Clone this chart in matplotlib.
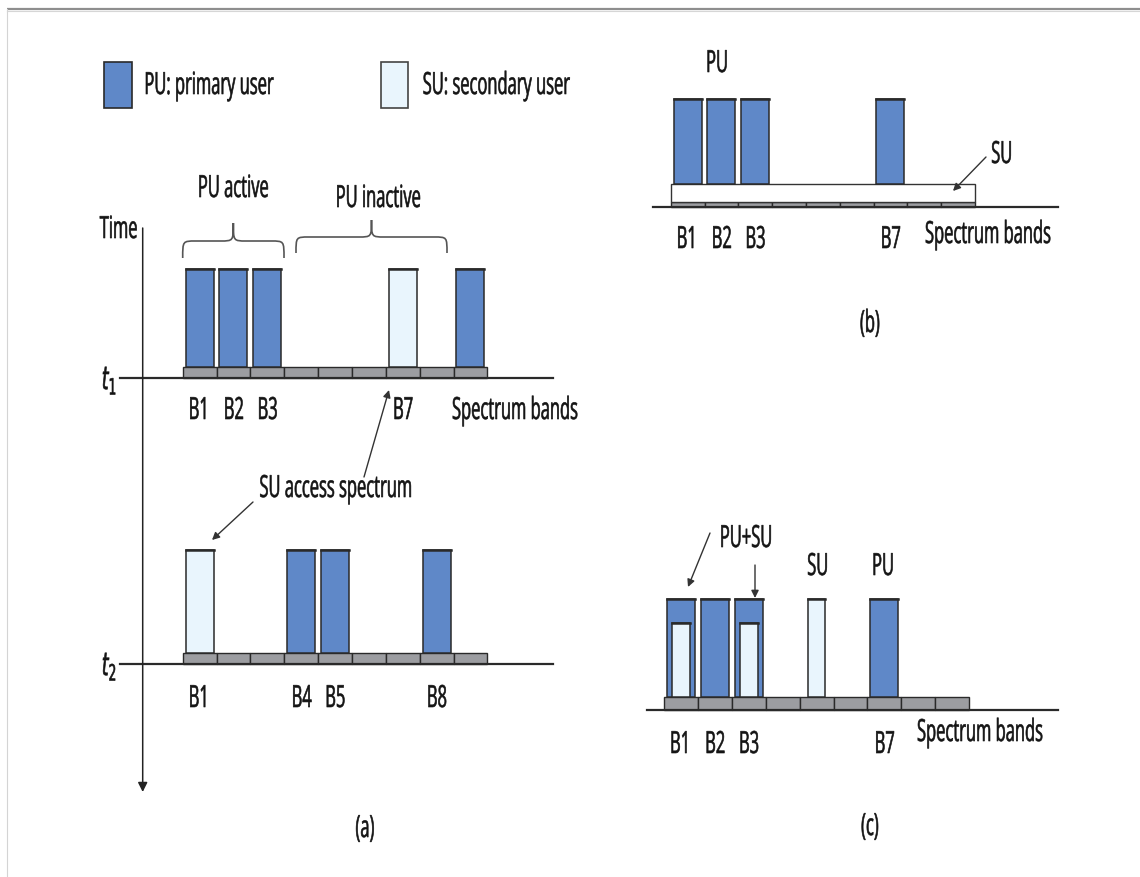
import matplotlib
matplotlib.use("Agg")
import matplotlib.pyplot as plt
from matplotlib.patches import Rectangle, PathPatch
from matplotlib.path import Path
from matplotlib.patheffects import AbstractPathEffect
from matplotlib.transforms import Affine2D, Bbox
from matplotlib.text import Text

# ---------------- data ----------------
n_bands = 9
legend_labels = ["PU: primary user", "SU: secondary user"]

# panel (a), time t1
a_t1_pu = [1, 2, 3, 9]
a_t1_su = [7]
a_t1_labels = {1: "B1", 2: "B2", 3: "B3", 7: "B7"}
# panel (a), time t2
a_t2_pu = [4, 5, 8]
a_t2_su = [1]
a_t2_labels = {1: "B1", 4: "B4", 5: "B5", 8: "B8"}
# panel (b): PU bands, SU spread over all bands
b_pu = [1, 2, 3, 7]
b_su_span = (1, 9)
b_labels = {1: "B1", 2: "B2", 3: "B3", 7: "B7"}
# panel (c): PU bands, SU bands (underlay where shared)
c_pu = [1, 2, 3, 7]
c_su = [1, 3, 5]
c_labels = {1: "B1", 2: "B2", 3: "B3", 7: "B7"}

# ---------------- style ----------------
PU_FILL = "#5f88c8"
SU_FILL = "#e9f5fd"
STRIP_FILL = "#9c9da1"
EDGE = "#2a2a2a"
FONT = ["Open Sans", "DejaVu Sans"]
FS = 22
SQUEEZE = 0.54

plt.rcParams["font.family"] = FONT


class Squeeze(AbstractPathEffect):
    """Draw text horizontally condensed (narrow type face look)."""

    def __init__(self, sx, anchor="center", stroke=0.45):
        super().__init__()
        self.sx = sx
        self.anchor = anchor
        self.stroke = stroke

    def draw_path(self, renderer, gc, tpath, affine, rgbFace=None):
        ext = tpath.get_extents()
        if self.anchor == "left":
            cx = ext.x0
        elif self.anchor == "right":
            cx = ext.x1
        else:
            cx = (ext.x0 + ext.x1) / 2
        t = Affine2D().translate(-cx, 0).scale(self.sx, 1).translate(cx, 0)
        gc0 = renderer.new_gc()
        gc0.copy_properties(gc)
        gc0.set_linewidth(self.stroke)
        if rgbFace is not None:
            gc0.set_foreground(rgbFace)
        renderer.draw_path(gc0, tpath, t + affine, rgbFace)
        gc0.restore()


class NarrowText(Text):
    """Text whose reported extent matches its condensed drawing."""

    def __init__(self, *args, sx=1.0, **kwargs):
        super().__init__(*args, **kwargs)
        self._sx = sx

    def get_window_extent(self, renderer=None, dpi=None):
        bb = super().get_window_extent(renderer, dpi)
        w = bb.width * self._sx
        ha = self.get_horizontalalignment()
        if ha == "left":
            x0 = bb.x0
        elif ha == "right":
            x0 = bb.x1 - w
        else:
            x0 = bb.x0 + (bb.width - w) / 2
        return Bbox.from_bounds(x0, bb.y0, w, bb.height)


fig = plt.figure(figsize=(11.4, 8.77), dpi=100)
ax = fig.add_axes([0, 0, 1, 1])
ax.set_xlim(0, 1140)
ax.set_ylim(877, 0)
ax.axis("off")

# frame lines
ax.plot([7, 1140], [9, 9], color="#8e8e8e", lw=1.6, solid_capstyle="butt")
ax.plot([7, 1140], [10.8, 10.8], color="#d6d6d6", lw=0.8)
ax.plot([7.3, 7.3], [9, 877], color="#d4d4d4", lw=0.8)


def txt(x, y, s, size=FS, ha="center", **kw):
    t = NarrowText(x, y, s, sx=SQUEEZE, fontsize=size, ha=ha, va="center",
                   color="#141414", **kw)
    t.set_path_effects([Squeeze(SQUEEZE, ha)])
    ax.add_artist(t)
    return t


def strip(x0, cell, y_top, y_bot):
    for i in range(n_bands):
        ax.add_patch(Rectangle((x0 + i * cell, y_top), cell, y_bot - y_top,
                               facecolor=STRIP_FILL, edgecolor=EDGE, lw=1.0))


def bar(x0, cell, band, y_top, y_bot, fill, width=28):
    cx = x0 + (band - 0.5) * cell
    ax.add_patch(Rectangle((cx - width / 2, y_top), width, y_bot - y_top,
                           facecolor=fill, edgecolor=EDGE, lw=1.1))
    ax.plot([cx - width / 2, cx + width / 2], [y_top, y_top], color=EDGE, lw=1.8)


def band_labels(x0, cell, labels, y):
    for b, s in labels.items():
        txt(x0 + (b - 0.5) * cell, y, s)


def arrow(x0, y0, x1, y1):
    ax.annotate("", xy=(x1, y1), xytext=(x0, y0),
                arrowprops=dict(arrowstyle="-|>", color="#333333", lw=1.0,
                                mutation_scale=11, shrinkA=0, shrinkB=0))


def brace(xl, xr, y_end, y_mid, y_tip, color="#555555"):
    xm = (xl + xr) / 2
    r = 13
    verts = [(xl, y_end),
             (xl, y_mid), (xl, y_mid), (xl + r, y_mid),
             (xm - r, y_mid),
             (xm, y_mid), (xm, y_mid), (xm, y_tip),
             (xm, y_mid), (xm, y_mid), (xm + r, y_mid),
             (xr - r, y_mid),
             (xr, y_mid), (xr, y_mid), (xr, y_end)]
    codes = [Path.MOVETO,
             Path.CURVE4, Path.CURVE4, Path.CURVE4,
             Path.LINETO,
             Path.CURVE4, Path.CURVE4, Path.CURVE4,
             Path.CURVE4, Path.CURVE4, Path.CURVE4,
             Path.LINETO,
             Path.CURVE4, Path.CURVE4, Path.CURVE4]
    ax.add_patch(PathPatch(Path(verts, codes), facecolor="none",
                           edgecolor=color, lw=1.2))


# ---------------- legend ----------------
ax.add_patch(Rectangle((104, 62), 28, 46, facecolor=PU_FILL, edgecolor=EDGE, lw=1.2))
txt(143, 86, legend_labels[0], ha="left")
ax.add_patch(Rectangle((381, 62), 27, 46, facecolor=SU_FILL, edgecolor="#444444", lw=1.2))
txt(422, 86, legend_labels[1], ha="left")

# ---------------- panel (a) ----------------
ax0, cell_a = 182.7, 33.85
# time axis
ax.annotate("", xy=(142.7, 792), xytext=(142.7, 228),
            arrowprops=dict(arrowstyle="-|>", color="#222222", lw=1.1,
                            mutation_scale=14, shrinkA=0, shrinkB=0))
txt(119, 230, "Time")

# t1
ax.plot([120, 553], [377.5, 377.5], color=EDGE, lw=1.6)
strip(ax0, cell_a, 367.3, 377.5)
for b in a_t1_pu:
    bar(ax0, cell_a, b, 269.3, 367.3, PU_FILL)
for b in a_t1_su:
    bar(ax0, cell_a, b, 269.3, 367.3, SU_FILL)
txt(109, 381, r"$t_1$", size=FS + 1, math_fontfamily="dejavusans")
band_labels(ax0, cell_a, a_t1_labels, 411)
txt(515, 411, "Spectrum bands")

brace(182.7, 284, 258, 241, 223)
brace(296, 447, 253, 237, 220)
txt(233, 189, "PU active")
txt(378, 199, "PU inactive")

# t2
ax.plot([120, 553], [663.5, 663.5], color=EDGE, lw=1.6)
strip(ax0, cell_a, 653.3, 663.5)
for b in a_t2_pu:
    bar(ax0, cell_a, b, 550, 653.3, PU_FILL)
for b in a_t2_su:
    bar(ax0, cell_a, b, 550, 653.3, SU_FILL)
txt(109, 667, r"$t_2$", size=FS + 1, math_fontfamily="dejavusans")
band_labels(ax0, cell_a, a_t2_labels, 699)

txt(336, 489, "SU access spectrum")
arrow(364, 477, 389, 390)
arrow(253, 502, 212, 540)
txt(365, 829, "(a)")

# ---------------- panel (b) ----------------
bx0, cell_b = 670.7, 33.8
ax.plot([653, 1058], [206.7, 206.7], color=EDGE, lw=1.6)
strip(bx0, cell_b, 201.7, 206.7)
su_l = bx0 + (b_su_span[0] - 1) * cell_b
su_r = bx0 + b_su_span[1] * cell_b
ax.add_patch(Rectangle((su_l, 184), su_r - su_l, 17.7, facecolor="white",
                       edgecolor="#333333", lw=1.0))
for b in b_pu:
    bar(bx0, cell_b, b, 99.3, 184, PU_FILL)
txt(717, 64, "PU")
txt(1002, 155, "SU")
arrow(986, 157, 953, 191)
band_labels(bx0, cell_b, b_labels, 240)
txt(988, 235, "Spectrum bands")
txt(870, 324, "(b)")

# ---------------- panel (c) ----------------
cx0, cell_c = 664, 33.9
ax.plot([647, 1058], [710, 710], color=EDGE, lw=1.6)
strip(cx0, cell_c, 697.3, 710)
for b in c_pu:
    bar(cx0, cell_c, b, 599.3, 697.3, PU_FILL)
for b in c_su:
    if b in c_pu:
        bar(cx0, cell_c, b, 622.7, 697.3, SU_FILL, width=18)
    else:
        bar(cx0, cell_c, b, 599.3, 697.3, SU_FILL, width=17)
txt(746, 539, "PU+SU")
txt(818, 567, "SU")
txt(883, 567, "PU")
arrow(710, 533, 688, 587)
arrow(755, 565, 755, 598)
band_labels(cx0, cell_c, c_labels, 745)
txt(980, 733, "Spectrum bands")
txt(870, 827, "(c)")

fig.savefig("out.png", dpi=100, facecolor="white")
